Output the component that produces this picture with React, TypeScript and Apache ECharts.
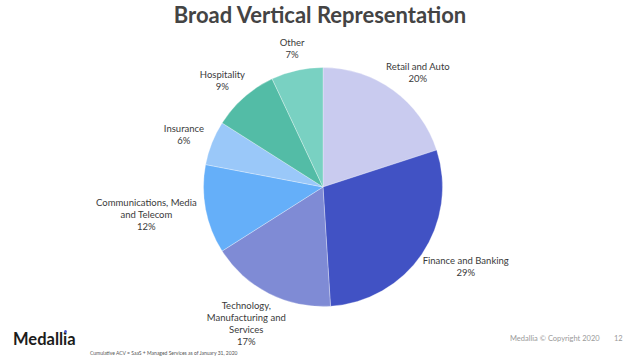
import React, { useEffect, useRef } from "react";
import * as echarts from "echarts";

const categories = [
  "Retail and Auto",
  "Finance and Banking",
  "Technology, Manufacturing and Services",
  "Communications, Media and Telecom",
  "Insurance",
  "Hospitality",
  "Other",
];
const labelTexts = [
  "Retail and Auto",
  "Finance and Banking",
  "Technology,\nManufacturing and\nServices",
  "Communications, Media\nand Telecom",
  "Insurance",
  "Hospitality",
  "Other",
];
const shares = [20, 29, 17, 12, 6, 9, 7];
const sliceColors = ["#c9cbef", "#4152c4", "#7f8bd5", "#65aff9", "#9ac8f9", "#53bca6", "#79d1c2"];

const TITLE = "Broad Vertical Representation";
const FOOTNOTE = "Cumulative ACV = SaaS + Managed Services as of January 31, 2020";
const COPYRIGHT = "Medallia \u00a9 Copyright 2020";
const PAGE = "12";

const CX = 323;
const CY = 187;
const R = 119.5;
const GAP = 10;

export default function App() {
  const ref = useRef<HTMLDivElement>(null);
  useEffect(() => {
    document.body.style.margin = "0";
    const chart = echarts.init(ref.current!, null, { renderer: "svg" });
    const total = shares.reduce((a, b) => a + b, 0);
    const cum: number[] = [];
    let acc = 0;
    shares.forEach((v) => {
      cum.push(acc);
      acc += v;
    });
    const font = "Lato, 'Open Sans', sans-serif";
    chart.setOption({
      animation: false,
      backgroundColor: "#ffffff",
      title: {
        text: TITLE,
        left: "center",
        top: -2,
        textStyle: { fontFamily: font, fontWeight: "bold", fontSize: 22, color: "#444444" },
      },
      graphic: [
        {
          type: "text",
          left: 13,
          top: 330,
          style: { text: "Medallia", font: `bold 16.5px ${font}`, fill: "#1c1c1c" },
        },
        {
          type: "circle",
          shape: { cx: 65.5, cy: 331.5, r: 1.4 },
          style: { fill: "#4a55d0" },
        },
        {
          type: "text",
          left: 90,
          top: 350,
          style: { text: FOOTNOTE, font: `5px ${font}`, fill: "#555555" },
        },
        {
          type: "text",
          left: 510,
          top: 334,
          style: { text: COPYRIGHT, font: `7.5px ${font}`, fill: "#9a9a9a" },
        },
        {
          type: "text",
          left: 614,
          top: 334,
          style: { text: PAGE, font: `7.5px ${font}`, fill: "#9a9a9a" },
        },
      ],
      series: [
        {
          type: "pie",
          center: [CX, CY],
          radius: [0, R],
          startAngle: 90,
          clockwise: true,
          avoidLabelOverlap: false,
          data: categories.map((name, i) => ({
            name,
            value: shares[i],
            itemStyle: { color: sliceColors[i] },
          })),
          itemStyle: { borderColor: "#ffffff", borderWidth: 0.3 },
          label: {
            show: true,
            position: "outside",
            formatter: (p: any) => `${labelTexts[p.dataIndex]}\n${p.value}%`,
            fontFamily: font,
            fontSize: 9.5,
            lineHeight: 12,
            color: "#3a3a3a",
            align: "center",
          },
          labelLine: { show: false },
          emphasis: { disabled: true },
          labelLayout: (p: any) => {
            const i = p.dataIndex;
            const mid = ((cum[i] + shares[i] / 2) / total) * Math.PI * 2;
            const s = Math.sin(mid);
            const c = Math.cos(mid);
            const w = p.labelRect.width;
            const h = p.labelRect.height;
            const rr = R + GAP;
            return {
              x: CX + s * rr + (s * w) / 2,
              y: CY - c * rr - (c * h) / 2,
              align: "center",
              verticalAlign: "middle",
            };
          },
        },
      ],
    });
    return () => chart.dispose();
  }, []);
  return <div ref={ref} style={{ width: 640, height: 361 }} />;
}
